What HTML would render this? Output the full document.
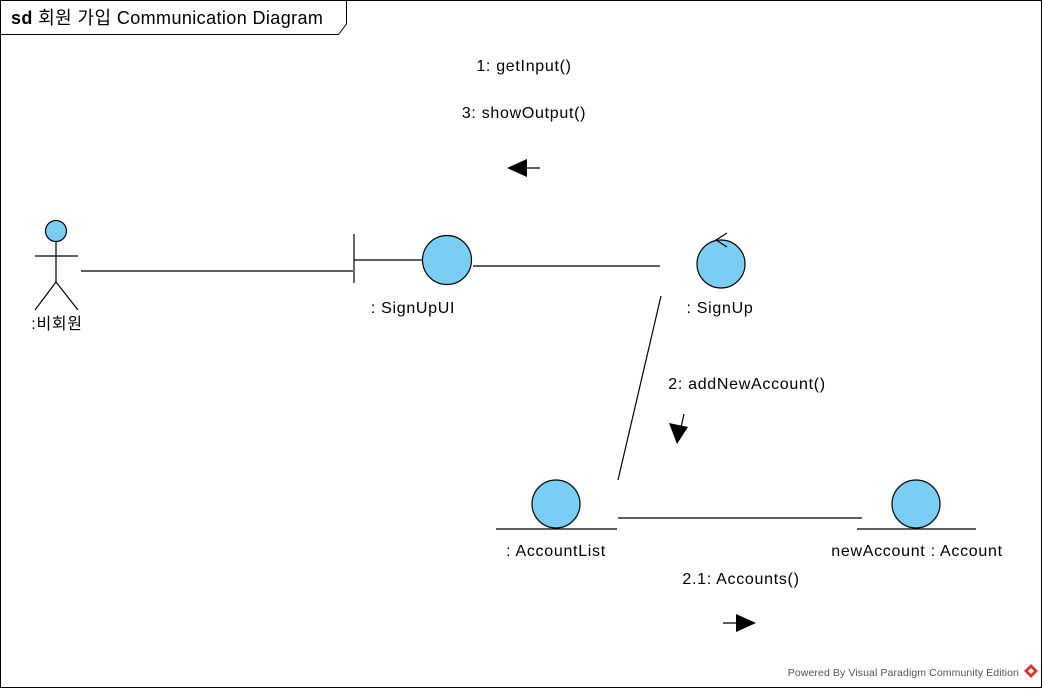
<!DOCTYPE html>
<html><head><meta charset="utf-8"><style>
html,body{margin:0;padding:0;background:#fff;}
svg{display:block;font-family:"Liberation Sans","Noto Sans CJK KR",sans-serif;}
.lbl{font-size:16px;letter-spacing:0.7px;}
</style></head><body>
<svg width="1043" height="689" viewBox="0 0 1043 689">
<rect x="0.5" y="0.5" width="1041" height="687" fill="#fff" stroke="#000"/>
<path d="M0.5 34.5 H338.5 L346.5 24 V0.5" fill="none" stroke="#000"/>
<text x="11" y="24" font-size="18" letter-spacing="0.4"><tspan font-weight="bold">sd</tspan>  회원 가입 Communication Diagram</text>

<g stroke="#000" stroke-width="1.2" fill="none">
<line x1="81" y1="271" x2="353" y2="271"/>
<line x1="473" y1="266" x2="660" y2="266"/>
<line x1="661" y1="296" x2="618" y2="480"/>
<line x1="618" y1="518" x2="862" y2="518"/>
</g>

<g stroke="#000" stroke-width="1.2">
<circle cx="56" cy="231" r="10.5" fill="#7acdf3"/>
<line x1="56" y1="242" x2="56" y2="282"/>
<line x1="35" y1="256" x2="78" y2="256"/>
<line x1="56" y1="282" x2="35" y2="310"/>
<line x1="56" y1="282" x2="78" y2="310"/>
</g>
<text x="57" y="329" class="lbl" text-anchor="middle">:비회원</text>

<g stroke="#000" stroke-width="1.2">
<line x1="354" y1="234" x2="354" y2="283"/>
<line x1="354" y1="260" x2="423" y2="260"/>
<circle cx="447" cy="260" r="24.5" fill="#7acdf3"/>
</g>
<text x="413" y="313" class="lbl" text-anchor="middle">: SignUpUI</text>

<g stroke="#000" stroke-width="1.2" fill="none">
<circle cx="721" cy="264" r="24" fill="#7acdf3"/>
<polyline points="727,233 716,240 727,247"/>
</g>
<text x="720" y="313" class="lbl" text-anchor="middle">: SignUp</text>

<g stroke="#000" stroke-width="1.2">
<circle cx="556" cy="504" r="24" fill="#7acdf3"/>
<line x1="496" y1="529" x2="617" y2="529"/>
</g>
<text x="556" y="556" class="lbl" text-anchor="middle">: AccountList</text>

<g stroke="#000" stroke-width="1.2">
<circle cx="916" cy="504" r="24" fill="#7acdf3"/>
<line x1="857" y1="529" x2="976" y2="529"/>
</g>
<text x="917" y="556" class="lbl" text-anchor="middle">newAccount : Account</text>

<text x="524" y="71" class="lbl" text-anchor="middle">1: getInput()</text>
<text x="524" y="118" class="lbl" text-anchor="middle">3: showOutput()</text>
<g><line x1="520" y1="168" x2="540" y2="168" stroke="#000" stroke-width="1.2"/><polygon points="507,168 527,159 527,177" fill="#000"/></g>

<text x="747" y="389" class="lbl" text-anchor="middle">2: addNewAccount()</text>
<g><line x1="684" y1="414" x2="680" y2="432" stroke="#000" stroke-width="1.2"/><polygon points="677,444 669,423 688,427" fill="#000"/></g>

<text x="741" y="584" class="lbl" text-anchor="middle">2.1: Accounts()</text>
<g><line x1="723" y1="623" x2="743" y2="623" stroke="#000" stroke-width="1.2"/><polygon points="756,623 736,614 736,632" fill="#000"/></g>

<text x="1019" y="676" font-size="10.5" letter-spacing="0.1" fill="#555" text-anchor="end">Powered By Visual Paradigm Community Edition</text>
<g><polygon points="1031,664 1038,671 1031,678 1024,671" fill="#d9322f"/><polygon points="1031,668 1034,671 1031,674 1028,671" fill="#fff"/></g>
</svg>
</body></html>
